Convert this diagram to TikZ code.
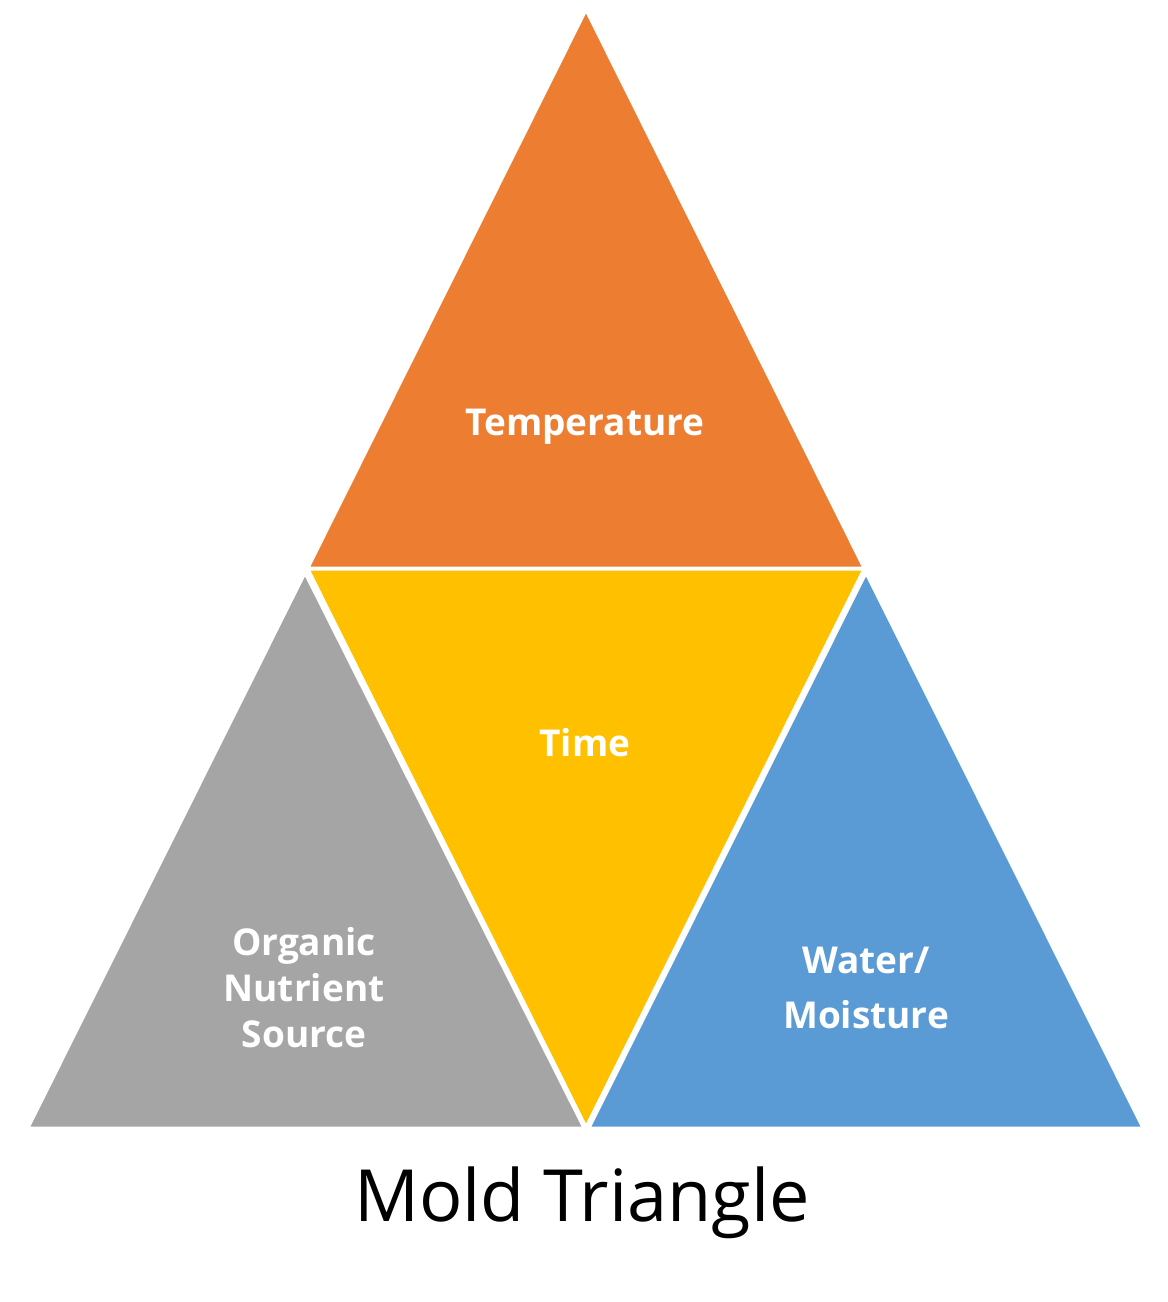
\documentclass[tikz,border=0pt]{standalone}
\usepackage{fontspec}
\setmainfont{Open Sans}
\definecolor{torange}{HTML}{ED7D31}
\definecolor{tyellow}{HTML}{FFC000}
\definecolor{tgray}{HTML}{A5A5A5}
\definecolor{tblue}{HTML}{5B9BD5}
\tikzset{tri/.style={draw=white,line width=3pt,line join=miter},
lbl/.style={text=white,font=\fontsize{37}{46}\selectfont\bfseries,align=center}}
\begin{document}
\begin{tikzpicture}[x=1pt,y=-1pt]
\useasboundingbox (0,0) rectangle (1168,1302);
\fill[white] (0,0) rectangle (1168,1302);
\filldraw[tri,fill=torange] (586,10) -- (864,568) -- (308,568) -- cycle;
\filldraw[tri,fill=tgray] (305,573) -- (584,1128) -- (28,1128) -- cycle;
\filldraw[tri,fill=tblue] (866,573) -- (1143,1128) -- (589,1128) -- cycle;
\filldraw[tri,fill=tyellow] (308,569) -- (864,569) -- (586,1127) -- cycle;
\node[lbl] (temp) at (585,427) {Temperature};
\node[lbl] (time) at (585,743) {Time};
\node[lbl] (org) at (304,988) {Organic\\Nutrient\\Source};
\node[lbl,text depth=0pt] (wat) at (866,988) {Water/\\[0.25em]Moisture};
\node (title) at (582,1203) {\fontsize{72}{80}\selectfont Mold Triangle};
\end{tikzpicture}
\end{document}
